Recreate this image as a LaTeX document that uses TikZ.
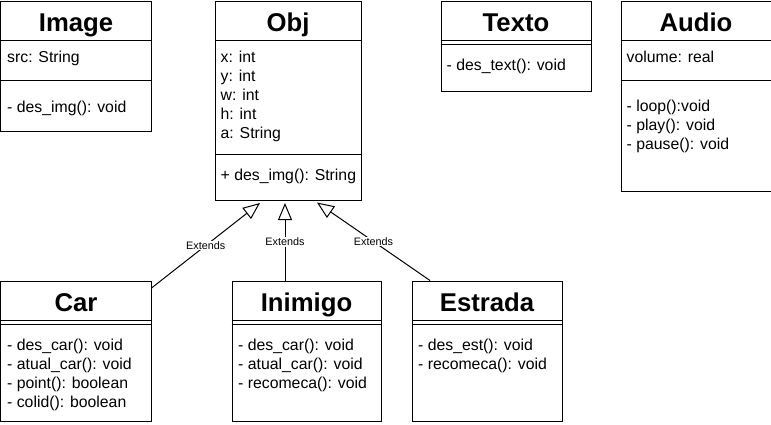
\documentclass[tikz,border=0pt]{standalone}
\usepackage{fontspec}
\setmainfont{Liberation Sans}
\usetikzlibrary{arrows.meta,calc}
\tikzset{
  cls/.style={draw, line width=1bp, rectangle, inner sep=0pt, anchor=north west},
  ttl/.style={font=\fontsize{25.7bp}{30bp}\selectfont\bfseries, anchor=base, inner sep=0pt},
  mbr/.style={font=\fontsize{15.8bp}{19bp}\selectfont, anchor=base west, inner sep=0pt},
  sepline/.style={line width=1bp},
  ext/.style={line width=1bp, -{Triangle[open, length=17bp, width=14bp, fill=white]}},
  lbl/.style={font=\fontsize{10.8bp}{12bp}\selectfont, fill=white, inner sep=1bp},
}
\newcommand\umlclass[6]{%
  \node[cls, minimum width=#4bp, minimum height=#5bp] (#1) at (#2,#3) {};
  \node[ttl] (#1-t) at ($(#1.north)+(0,30.7)$) {#6};
}
\newcommand\umlsep[2]{%
  \draw[sepline] ($(#1.north west)+(0,#2)$) -- ($(#1.north east)+(0,#2)$);
}
\newcommand\umlrows[4]{%
  \foreach \t [count=\i] in {#4} {\node[mbr] (#1\i) at (#2,{#3+19*(\i-1)}) {\t};}
}
\begin{document}
\begin{tikzpicture}[x=1bp,y=-1bp]
\useasboundingbox (0,0) rectangle (771,424);
% Image
\umlclass{image}{0.5}{0.5}{150}{130}{Image}
\umlsep{image}{39.5}
\umlsep{image}{79.5}
\umlrows{image-a}{7}{62}{src: String}
\umlrows{image-m}{7}{112}{- des\_img(): void}
% Obj
\umlclass{obj}{214.5}{0.5}{146}{199.5}{Obj}
\umlsep{obj}{39.5}
\umlsep{obj}{153.5}
\umlrows{obj-a}{220.5}{62}{x: int, y: int, w: int, h: int, a: String}
\umlrows{obj-m}{220.5}{180}{+ des\_img(): String}
% Texto
\umlclass{texto}{440.5}{0.5}{150}{90}{Texto}
\umlsep{texto}{39.5}
\umlsep{texto}{43.5}
\umlrows{texto-m}{446.5}{70}{- des\_text(): void}
% Audio
\umlclass{audio}{620.5}{0.5}{150}{190}{Audio}
\umlsep{audio}{39.5}
\umlsep{audio}{79.5}
\umlrows{audio-a}{626.5}{62}{volume: real}
\umlrows{audio-m}{626.5}{111.5}{- loop():void, - play(): void, - pause(): void}
% Car
\umlclass{car}{0.5}{280.5}{150}{140}{Car}
\umlsep{car}{39.5}
\umlsep{car}{43.5}
\umlrows{car-m}{7}{350.5}{- des\_car(): void, - atual\_car(): void, - point(): boolean, - colid(): boolean}
% Inimigo
\umlclass{inimigo}{231.5}{280.5}{149}{140}{Inimigo}
\umlsep{inimigo}{39.5}
\umlsep{inimigo}{43.5}
\umlrows{inimigo-m}{238}{350.5}{- des\_car(): void, - atual\_car(): void, - recomeca(): void}
% Estrada
\umlclass{estrada}{411.5}{280.5}{150}{140}{Estrada}
\umlsep{estrada}{39.5}
\umlsep{estrada}{43.5}
\umlrows{estrada-m}{418}{350.5}{- des\_est(): void, - recomeca(): void}
% Generalizations
\draw[ext] ($(car.north east)+(0,7.5)$) -- node[lbl] (e1) {Extends} ($(obj.south west)+(45.5,2)$);
\draw[ext] ($(inimigo.north west)+(53.5,0)$) -- node[lbl] (e2) {Extends} ($(obj.south west)+(70.5,2)$);
\draw[ext] ($(estrada.north west)+(18.5,0)$) -- node[lbl] (e3) {Extends} ($(obj.south west)+(102.5,1.5)$);
\end{tikzpicture}
\end{document}
